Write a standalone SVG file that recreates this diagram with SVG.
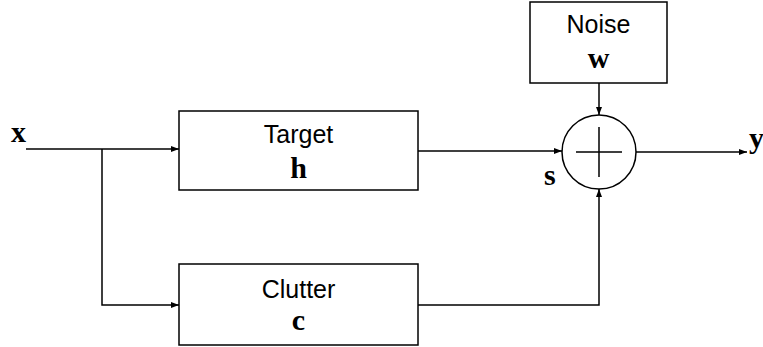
<svg xmlns="http://www.w3.org/2000/svg" width="763" height="347" viewBox="0 0 763 347">
  <style>
    .box { fill: #ffffff; stroke: #000000; stroke-width: 1.5; }
    .wire { fill: none; stroke: #000000; stroke-width: 1.5; }
    .lbl { font-family: "Liberation Sans", Arial, sans-serif; font-size: 25px; fill: #000000; text-anchor: middle; }
    .sym { font-family: "Liberation Serif", "Times New Roman", serif; font-weight: bold; font-size: 30px; fill: #000000; }
  </style>
  <defs>
    <marker id="arrow" viewBox="0 0 8 6" refX="8" refY="3" markerWidth="8" markerHeight="6" markerUnits="userSpaceOnUse" orient="auto">
      <path d="M0,0 L8,3 L0,6 z" fill="#000000"/>
    </marker>
  </defs>

  <!-- connectors -->
  <g id="connectors">
    <path class="wire" d="M26,149 H179" marker-end="url(#arrow)"/>
    <path class="wire" d="M102,149 V305 H179" marker-end="url(#arrow)"/>
    <path class="wire" d="M418,151 H562" marker-end="url(#arrow)"/>
    <path class="wire" d="M599,83 V115" marker-end="url(#arrow)"/>
    <path class="wire" d="M418,305 H599 V189" marker-end="url(#arrow)"/>
    <path class="wire" d="M636,152 H747" marker-end="url(#arrow)"/>
  </g>

  <!-- blocks -->
  <g id="target">
    <rect class="box" x="179" y="111" width="239" height="79"/>
    <text class="lbl" x="298.5" y="143">Target</text>
    <text class="sym" x="298.5" y="178" text-anchor="middle">h</text>
  </g>
  <g id="clutter">
    <rect class="box" x="179" y="264" width="239" height="81"/>
    <text class="lbl" x="298.5" y="298">Clutter</text>
    <text class="sym" x="298.5" y="330" text-anchor="middle">c</text>
  </g>
  <g id="noise">
    <rect class="box" x="530" y="2" width="137" height="81"/>
    <text class="lbl" x="598.5" y="33">Noise</text>
    <text class="sym" x="598.5" y="68" text-anchor="middle">w</text>
  </g>
  <g id="sum">
    <circle class="box" cx="599" cy="152" r="37"/>
    <path class="wire" d="M576,152 H622 M599,127 V177"/>
  </g>

  <!-- signal labels -->
  <g id="labels">
    <text class="sym" x="11" y="142">x</text>
    <text class="sym" x="544" y="185">s</text>
    <text class="sym" x="749" y="148">y</text>
  </g>
</svg>
